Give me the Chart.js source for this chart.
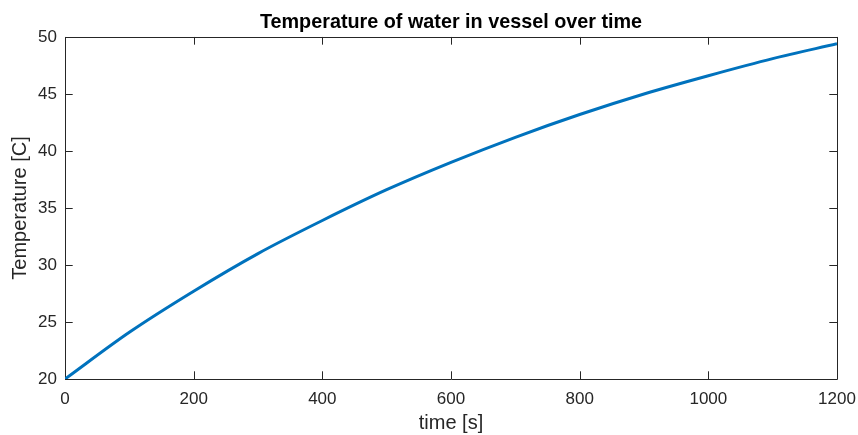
<!DOCTYPE html>
<html>
<head>
<meta charset="utf-8">
<style>
  html, body { margin: 0; padding: 0; background: #fff; }
  #wrap { width: 858px; height: 435px; }
</style>
<script src="https://cdn.jsdelivr.net/npm/chart.js@4/dist/chart.umd.min.js"></script>
</head>
<body>
<div id="wrap"><canvas id="myChart" width="858" height="435"></canvas></div>
<script>
"use strict";
// values
let times = [0, 100, 200, 300, 400, 500, 600, 700, 800, 900, 1000, 1100, 1200];
let temps = [20, 24.1, 27.7, 31.0, 33.9, 36.6, 39.0, 41.2, 43.2, 45.0, 46.6, 48.1, 49.4];
let xTicks = [0, 200, 400, 600, 800, 1000, 1200];
let yTicks = [20, 25, 30, 35, 40, 45, 50];

const axisColor = '#262626';
const fontFamily = '"Liberation Sans", Arial, Helvetica, sans-serif';

// MATLAB style box with inward ticks on all four sides
const boxPlugin = {
    id: 'box',
    beforeDatasetsDraw(chart) {
        const ctx = chart.ctx;
        const a = chart.chartArea;
        const xs = chart.scales.x, ys = chart.scales.y;
        const tl = 7.7;
        ctx.save();
        ctx.strokeStyle = axisColor;
        ctx.lineWidth = 1;
        ctx.beginPath();
        ctx.rect(Math.round(a.left) + 0.5, Math.round(a.top) + 0.5,
                 Math.round(a.right - a.left), Math.round(a.bottom - a.top));
        xTicks.forEach(v => {
            const px = Math.round(xs.getPixelForValue(v)) + 0.5;
            ctx.moveTo(px, a.bottom); ctx.lineTo(px, a.bottom - tl);
            ctx.moveTo(px, a.top); ctx.lineTo(px, a.top + tl);
        });
        yTicks.forEach(v => {
            const py = Math.round(ys.getPixelForValue(v)) + 0.5;
            ctx.moveTo(a.left, py); ctx.lineTo(a.left + tl, py);
            ctx.moveTo(a.right, py); ctx.lineTo(a.right - tl, py);
        });
        ctx.stroke();
        ctx.restore();
    }
};

let myChart = document.getElementById('myChart').getContext('2d');
let tempChart = new Chart(myChart, {
    type: 'line',
    data: {
        datasets: [{
            label: 'Temperature',
            data: times.map((t, i) => ({ x: t, y: temps[i] })),
            borderColor: '#0072BD',
            borderWidth: 3,
            pointRadius: 0,
            cubicInterpolationMode: 'monotone',
            fill: false
        }]
    },
    options: {
        responsive: false,
        animation: false,
        layout: { padding: { left: 0, right: 21, top: 0, bottom: 0 } },
        plugins: {
            legend: { display: false },
            tooltip: { enabled: false },
            title: {
                display: true,
                fullSize: false,
                text: 'Temperature of water in vessel over time',
                color: '#000',
                font: { family: fontFamily, size: 19.8, weight: 'bold', lineHeight: 1.2 },
                padding: { top: 11, bottom: 2.2 }
            }
        },
        scales: {
            x: {
                type: 'linear',
                min: 0,
                max: 1200,
                afterBuildTicks: s => { s.ticks = xTicks.map(v => ({ value: v })); },
                afterFit: s => { s.height = 56; s.paddingLeft = 0; s.paddingRight = 0; },
                grid: { display: false, drawTicks: false },
                border: { display: false },
                ticks: {
                    color: axisColor,
                    padding: 10,
                    maxRotation: 0,
                    callback: v => String(v),
                    font: { family: fontFamily, size: 17 }
                },
                title: {
                    display: true,
                    text: 'time [s]',
                    color: axisColor,
                    font: { family: fontFamily, size: 20, lineHeight: 1.2 },
                    padding: { top: 0, bottom: 0 }
                }
            },
            y: {
                min: 20,
                max: 50,
                afterBuildTicks: s => { s.ticks = yTicks.map(v => ({ value: v })); },
                afterFit: s => { s.width = 65; s.paddingTop = 0; s.paddingBottom = 0; },
                grid: { display: false, drawTicks: false },
                border: { display: false },
                ticks: {
                    color: axisColor,
                    padding: 8,
                    callback: v => String(v),
                    font: { family: fontFamily, size: 17 }
                },
                title: {
                    display: true,
                    text: 'Temperature [C]',
                    color: axisColor,
                    font: { family: fontFamily, size: 20, lineHeight: 1.2 },
                    padding: { top: 8, bottom: 0 }
                }
            }
        }
    },
    plugins: [boxPlugin]
});
</script>
</body>
</html>
